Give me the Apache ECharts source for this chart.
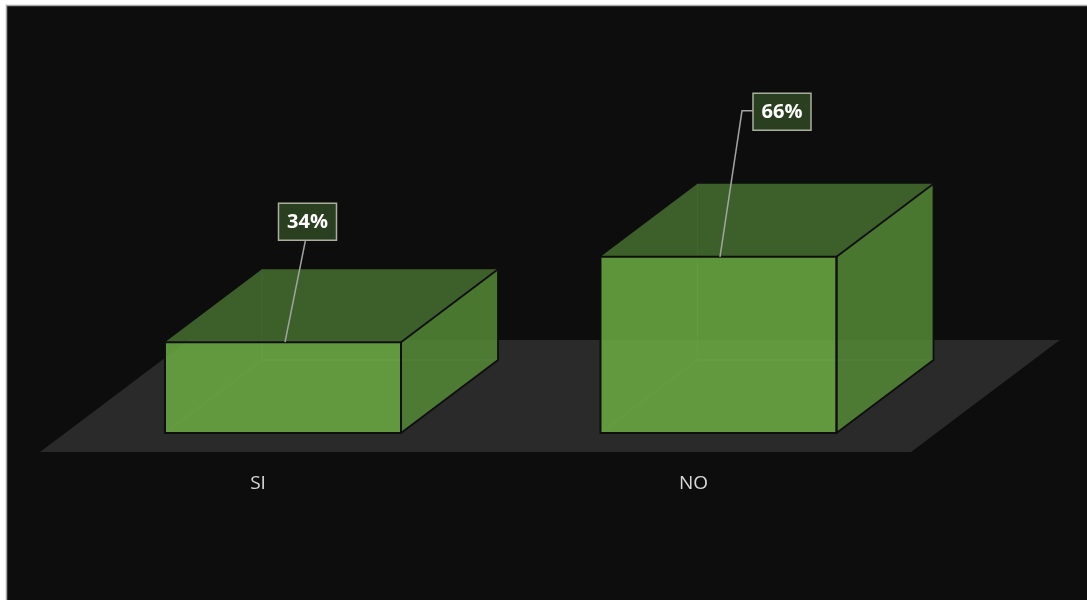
<!DOCTYPE html>
<html>
<head>
<meta charset="utf-8">
<script src="https://cdn.jsdelivr.net/npm/echarts@6/dist/echarts.min.js"></script>
<style>
html,body{margin:0;padding:0;background:#fff;}
#chart{width:1087px;height:600px;}
</style>
</head>
<body>
<div id="chart"></div>
<script>
// ---- data ----
const categories = ['SI', 'NO'];
const values = [34, 66];
const valueLabels = ['34%', '66%'];

// ---- layout (label boxes placed relative to the bar's front-top centre) ----
const labelLayout = [
  { dx: 24.5, dy: -120.5, from: 'bottom' },
  { dx: 63.5, dy: -145, from: 'left' }
];

const chart = echarts.init(document.getElementById('chart'), null, { renderer: 'canvas' });

const BAR_W = 0.542;     // bar width as share of category band
const DEPTH = 0.2227;    // depth offset (x) as share of band
const DEPTH_SLOPE = 0.7526;
const FLOOR_FRONT = -0.26;
const FLOOR_BACK = 1.274;

function floorItem(params, api) {
  const cs = params.coordSys;
  const band = cs.width / categories.length;
  const dx = band * DEPTH, dy = -dx * DEPTH_SLOPE;
  const y = cs.y + cs.height;
  const xl = cs.x, xr = cs.x + cs.width;
  return {
    type: 'polygon',
    shape: {
      points: [
        [xl + FLOOR_FRONT * dx, y + FLOOR_FRONT * dy],
        [xr + FLOOR_FRONT * dx, y + FLOOR_FRONT * dy],
        [xr + FLOOR_BACK * dx, y + FLOOR_BACK * dy],
        [xl + FLOOR_BACK * dx, y + FLOOR_BACK * dy]
      ]
    },
    style: { fill: '#2b2a2b' },
    silent: true
  };
}

function barItem(params, api) {
  const i = api.value(0), v = api.value(1);
  const top = api.coord([i, v]);
  const base = api.coord([i, 0]);
  const band = api.size([1, 0])[0];
  const w = band * BAR_W;
  const dx = band * DEPTH, dy = -dx * DEPTH_SLOPE;
  const x0 = base[0] - w / 2, x1 = base[0] + w / 2;
  const yb = base[1], yt = top[1];
  const op = 0.87;
  const edge = '#0f0f0f';
  const hidden = 'rgba(120,175,80,0.3)';
  const L = labelLayout[params.dataIndex];
  const cx = base[0] + L.dx, cy = yt + L.dy;
  const bw = 58, bh = 37;
  let leader;
  if (L.from === 'bottom') {
    leader = [[cx - 2, cy + bh / 2], [base[0] + 2, yt]];
  } else {
    leader = [[cx - bw / 2, cy - 1], [cx - bw / 2 - 11, cy - 1], [base[0] + 1.5, yt]];
  }
  return {
    type: 'group',
    children: [
      // hidden (back) edges seen through the translucent box
      { type: 'polyline', shape: { points: [[x0, yb], [x0 + dx, yb + dy], [x1 + dx, yb + dy]] },
        style: { stroke: hidden, lineWidth: 1, fill: null } },
      { type: 'line', shape: { x1: x0 + dx, y1: yb + dy, x2: x0 + dx, y2: yt + dy },
        style: { stroke: hidden, lineWidth: 1 } },
      // top face
      { type: 'polygon', shape: { points: [[x0, yt], [x1, yt], [x1 + dx, yt + dy], [x0 + dx, yt + dy]] },
        style: { fill: '#456c2f', opacity: op } },
      // right face
      { type: 'polygon', shape: { points: [[x1, yt], [x1 + dx, yt + dy], [x1 + dx, yb + dy], [x1, yb]] },
        style: { fill: '#548736', opacity: op } },
      // front face
      { type: 'rect', shape: { x: x0, y: yt, width: w, height: yb - yt },
        style: { fill: '#6baa43', opacity: op } },
      // outlines
      { type: 'polygon', shape: { points: [[x1, yt], [x1 + dx, yt + dy], [x1 + dx, yb + dy], [x1, yb]] },
        style: { fill: null, stroke: edge, lineWidth: 1.8, lineJoin: 'round' } },
      { type: 'rect', shape: { x: x0, y: yt, width: w, height: yb - yt },
        style: { fill: null, stroke: edge, lineWidth: 2 } },
      // leader line
      { type: 'polyline', shape: { points: leader },
        style: { stroke: '#a3a3a3', lineWidth: 1.5, fill: null } },
      // label box
      { type: 'rect', shape: { x: cx - bw / 2, y: cy - bh / 2, width: bw, height: bh },
        style: { fill: '#2a3f20', stroke: '#a9ae9f', lineWidth: 1.5 } },
      { type: 'text', x: cx, y: cy + 1,
        style: { text: valueLabels[params.dataIndex], fill: '#ffffff', font: 'bold 20px "Open Sans"',
                 align: 'center', verticalAlign: 'middle' } }
    ]
  };
}

const option = {
  backgroundColor: '#ffffff',
  animation: false,
  graphic: [{
    type: 'rect', z: -10, silent: true,
    shape: { x: 6.5, y: 5.5, width: 1100, height: 620 },
    style: { fill: '#0d0d0d', stroke: '#a6a6a6', lineWidth: 1.5 }
  }],
  grid: { left: 65.25, right: 150.75, top: 166, bottom: 167 },
  xAxis: {
    type: 'category',
    data: categories,
    axisLine: { show: false },
    axisTick: { show: false },
    splitLine: { show: false },
    axisLabel: {
      color: '#d9d9d9', fontSize: 19, fontFamily: 'Open Sans',
      margin: 41, padding: [0, 50, 0, 0]
    }
  },
  yAxis: {
    type: 'value', min: 0, max: 100, show: false,
    splitLine: { show: false }
  },
  series: [
    { type: 'custom', data: [[0, 0]], renderItem: floorItem, z: 1, silent: true },
    {
      type: 'custom', z: 2,
      data: values.map((v, i) => [i, v]),
      encode: { x: 0, y: 1 },
      renderItem: barItem
    }
  ]
};
chart.setOption(option);
</script>
</body>
</html>
